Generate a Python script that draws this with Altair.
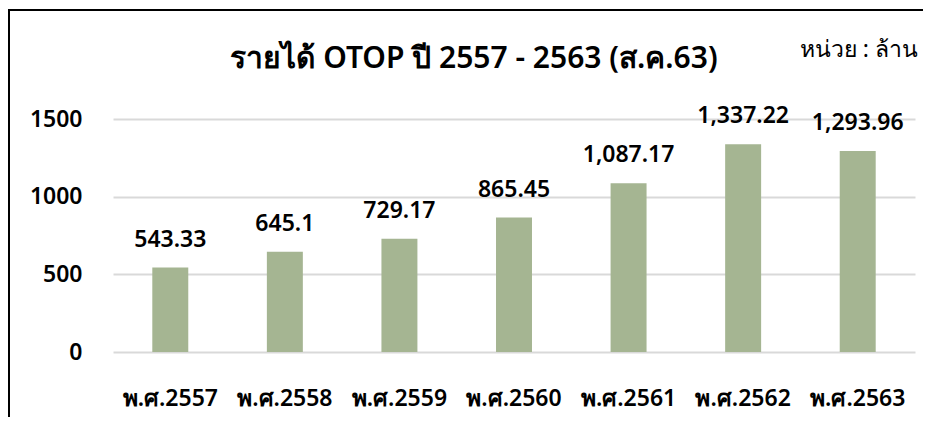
import altair as alt
import pandas as pd

years = ["พ.ศ.2557", "พ.ศ.2558", "พ.ศ.2559", "พ.ศ.2560", "พ.ศ.2561", "พ.ศ.2562", "พ.ศ.2563"]
values = [543.33, 645.1, 729.17, 865.45, 1087.17, 1337.22, 1293.96]
title_text = ["รายได้ OTOP ปี 2557 - 2563 (ส.ค.63)"]
unit_text = ["หน่วย : ล้าน"]
y_ticks = [0, 500, 1000, 1500]

df = pd.DataFrame({"year": years, "value": values})
FONT = "Noto Sans"
W = 600
BAR = "#A5B592"

x_axis = alt.Axis(labelAngle=0, labelFontSize=23, labelFont=FONT, labelColor="#000000",
                  labelPadding=35, domain=False, ticks=False, grid=False, labelFontWeight=W)
x_enc = alt.X(
    "year:N", sort=years, title=None,
    scale=alt.Scale(paddingInner=0.686, paddingOuter=0.343),
    axis=x_axis,
)
y_enc = alt.Y(
    "value:Q", title=None,
    scale=alt.Scale(domain=[0, 1500], nice=False),
    axis=alt.Axis(values=y_ticks, format="d", labelFontSize=23, labelFont=FONT,
                  labelColor="#000000", labelPadding=31, domain=False, ticks=False,
                  labelFontWeight=W, gridColor="#D9D9D9", gridWidth=2),
)

base = alt.Chart(df)
bars = base.mark_bar(color=BAR).encode(x=x_enc, y=y_enc)
labels = base.mark_text(dy=-21, baseline="alphabetic", fontSize=23, font=FONT,
                        fontWeight=W, color="#000000").encode(
    x=alt.X("year:N", sort=years, title=None, axis=x_axis), y="value:Q",
    text=alt.Text("value:Q", format=",.2~f"))

title = alt.Chart(pd.DataFrame({"t": title_text})).mark_text(
    fontSize=30, font=FONT, fontWeight=W, align="center", baseline="alphabetic",
    color="#000000").encode(text="t:N", x=alt.value(361), y=alt.value(-51))
unit = alt.Chart(pd.DataFrame({"t": unit_text})).mark_text(
    fontSize=23, font=FONT, align="right", baseline="alphabetic",
    color="#000000").encode(text="t:N", x=alt.value(805), y=alt.value(-62))

frame_df = pd.DataFrame({"a": [0]})
left_line = alt.Chart(frame_df).mark_rule(color="#000000", strokeWidth=2).encode(
    x=alt.value(-104), y=alt.value(-109), y2=alt.value(320))
top_line = alt.Chart(frame_df).mark_rule(color="#000000", strokeWidth=2).encode(
    x=alt.value(-105), x2=alt.value(815), y=alt.value(-109))

chart = alt.layer(bars, labels, title, unit, left_line, top_line).properties(
    width=802, height=233,
    background="#FFFFFF",
    autosize=alt.AutoSizeParams(type="none"),
    padding={"left": 105, "top": 111, "right": 8, "bottom": 65},
).configure_view(stroke=None).configure_axisX(grid=False)

chart.save("out.html", embed_options={"renderer": "svg", "actions": False})
